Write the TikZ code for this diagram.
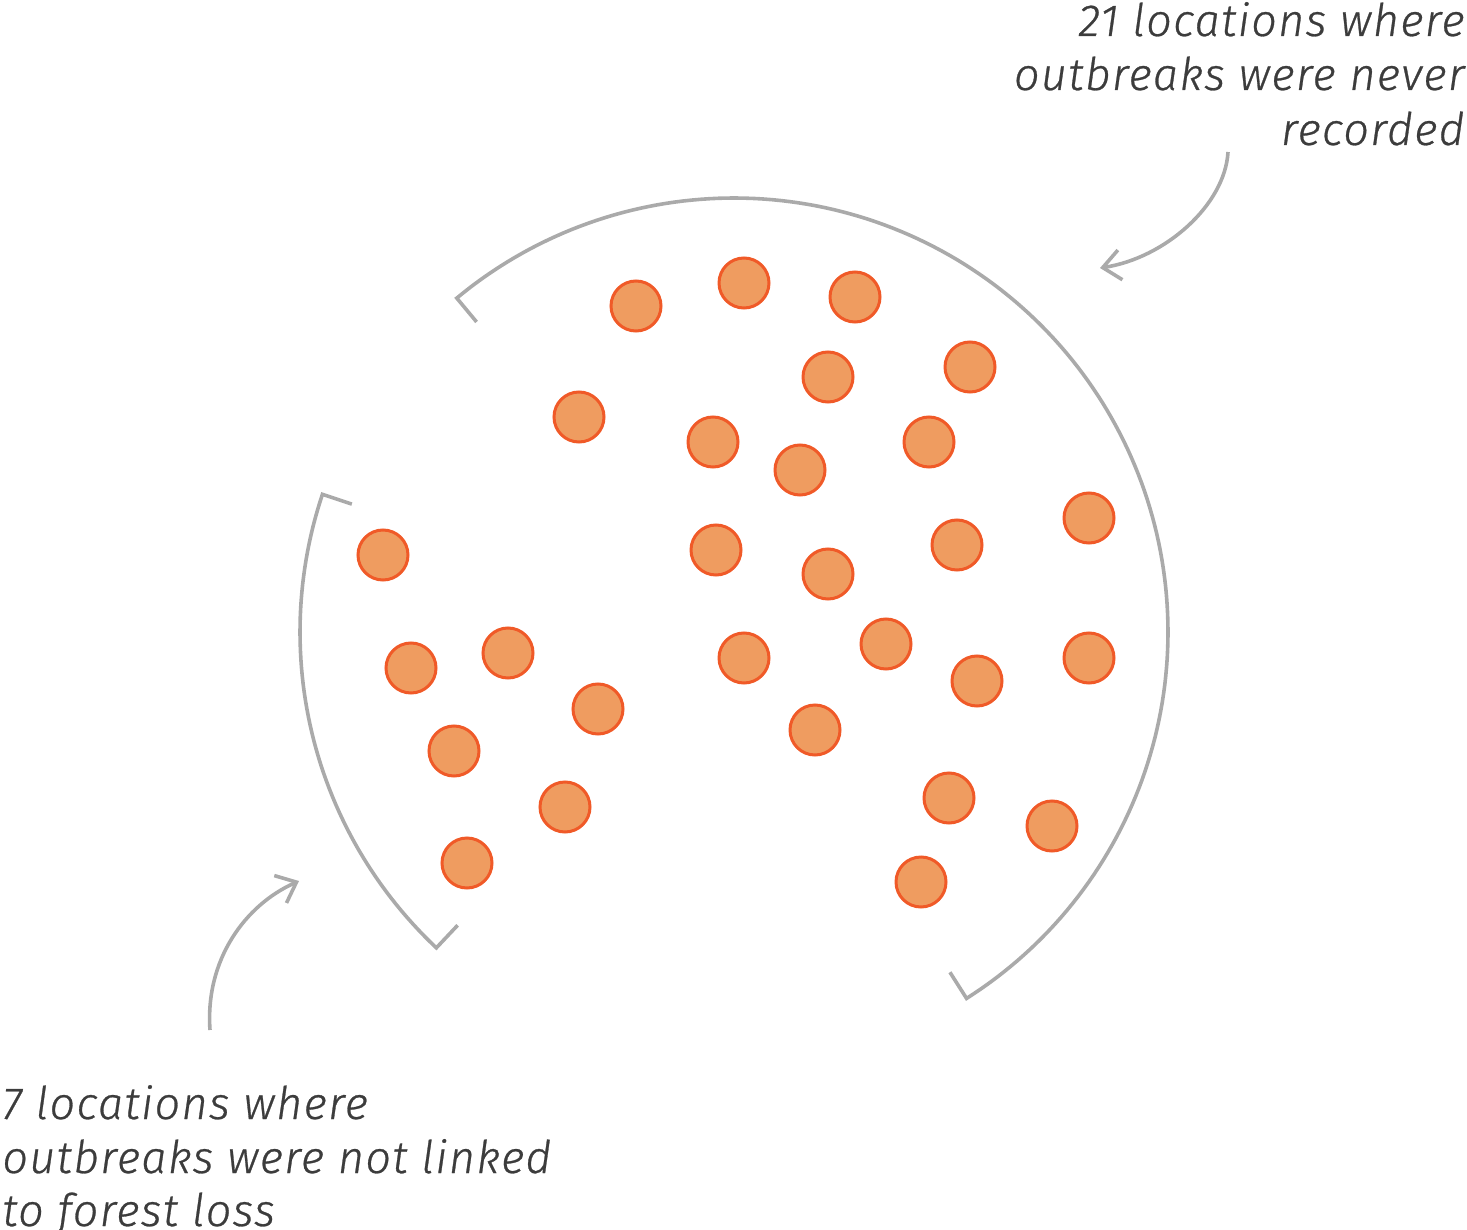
\documentclass[tikz,border=0pt]{standalone}
\usepackage{fontspec}
\newfontfamily\lblfont{Fira Sans Light Italic}[LetterSpace=3,FakeBold=0.6]
\usetikzlibrary{arrows.meta}
\definecolor{dotfill}{RGB}{239,156,96}
\definecolor{dotline}{RGB}{240,90,40}
\definecolor{arcgray}{RGB}{170,170,170}
\definecolor{txtgray}{RGB}{60,60,60}
\tikzset{
  dot/.style={circle,draw=dotline,fill=dotfill,line width=1.5pt,minimum size=25pt,inner sep=0pt},
  grayline/.style={draw=arcgray,line width=1.8pt,line join=miter},
  pointer/.style={draw=arcgray,line width=1.8pt,-{Straight Barb[length=8.8pt,width=15pt]}},
  lbl/.style={font=\lblfont\fontsize{22.5pt}{27pt}\selectfont,text=txtgray,inner sep=0pt},
}
\begin{document}
\begin{tikzpicture}[x=0.5pt,y=-0.5pt]
\useasboundingbox (0,0) rectangle (1467,1230);
% dots
\foreach \n/\px/\py in {1/636/306,2/744/283,3/855/297,4/828/377,5/970/367,6/579/417,7/713/442,8/800/470,9/929/442,10/1089/518,11/383/555,12/716/550,13/828/574,14/957/545,15/411/668,16/508/653,17/598/709,18/744/658,19/886/644,20/977/681,21/1089/658,22/454/751,23/815/730,24/565/807,25/949/798,26/1052/826,27/467/863,28/921/882}
  \node[dot] (d\n) at (\px,\py) {};
% big arc (21 locations)
\draw[grayline] ({734+403*cos(129.7)},{632-403*sin(129.7)}) -- plot[domain=129.7:-57.6,samples=160] ({734+434*cos(\x)},{632-434*sin(\x)}) -- ({734+403*cos(-57.6)},{632-403*sin(-57.6)});
% small arc (7 locations)
\draw[grayline] ({734+403*cos(161.5)},{632-403*sin(161.5)}) -- plot[domain=161.5:226.7,samples=60] ({734+434*cos(\x)},{632-434*sin(\x)}) -- ({734+403*cos(226.7)},{632-403*sin(226.7)});
% labels
\node[lbl,anchor=base east] (t1) at (1465,36) {21 locations where};
\node[lbl,anchor=base east] (t2) at (1465,90) {outbreaks were never};
\node[lbl,anchor=base east] (t3) at (1465,145) {recorded};
\node[lbl,anchor=base west] (b1) at (2,1119) {7 locations where};
\node[lbl,anchor=base west] (b2) at (2,1173) {outbreaks were not linked};
\node[lbl,anchor=base west] (b3) at (2,1226) {to forest loss};
% pointers
\coordinate (p1s) at (1228,152);
\coordinate (p1e) at (1100,268);
\coordinate (p2s) at (210,1030);
\coordinate (p2e) at (299,881);
\draw[pointer] (p1s) .. controls (1225,205) and (1165,258) .. (p1e);
\draw[pointer] (p2s) .. controls (205,960) and (245,905) .. (p2e);
\end{tikzpicture}
\end{document}
